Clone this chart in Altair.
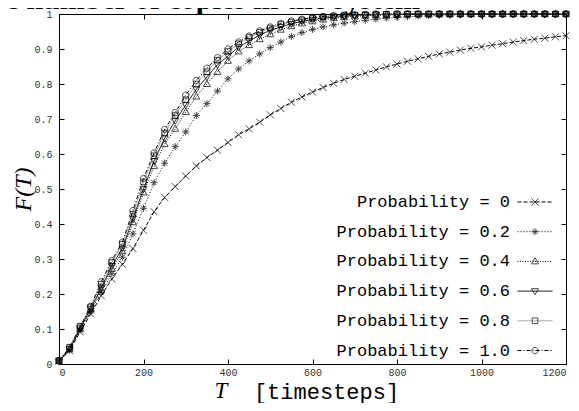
import altair as alt
import pandas as pd

T = list(range(0, 1201, 25))
series_labels = ["Probability = 0", "Probability = 0.2", "Probability = 0.4",
                 "Probability = 0.6", "Probability = 0.8", "Probability = 1.0"]

p00 = [0.008, 0.038, 0.092, 0.143, 0.195, 0.243, 0.285, 0.330, 0.382, 0.435,
       0.476, 0.507, 0.537, 0.566, 0.590, 0.611, 0.633, 0.655, 0.672, 0.691,
       0.712, 0.730, 0.748, 0.763, 0.777, 0.790, 0.802, 0.813, 0.822, 0.831,
       0.840, 0.849, 0.857, 0.865, 0.872, 0.879, 0.886, 0.891, 0.897, 0.902,
       0.906, 0.911, 0.915, 0.920, 0.924, 0.928, 0.931, 0.935, 0.938]
p02 = [0.008, 0.040, 0.097, 0.150, 0.205, 0.258, 0.305, 0.372, 0.445, 0.518,
       0.574, 0.621, 0.663, 0.710, 0.744, 0.780, 0.815, 0.843, 0.866, 0.886,
       0.904, 0.920, 0.936, 0.947, 0.956, 0.963, 0.969, 0.974, 0.978, 0.982,
       0.985, 0.988, 0.990, 0.992, 0.994, 0.995, 0.996, 0.997, 0.998, 0.998,
       0.999, 0.999, 0.999, 1.0, 1.0, 1.0, 1.0, 1.0, 1.0]
p04 = [0.008, 0.042, 0.100, 0.155, 0.212, 0.272, 0.322, 0.405, 0.490, 0.565,
       0.628, 0.672, 0.720, 0.764, 0.800, 0.834, 0.866, 0.893, 0.911, 0.928,
       0.942, 0.955, 0.965, 0.973, 0.979, 0.984, 0.988, 0.991, 0.993, 0.995,
       0.996, 0.997, 0.998, 0.999, 0.999, 0.999, 1.0, 1.0, 1.0, 1.0,
       1.0, 1.0, 1.0, 1.0, 1.0, 1.0, 1.0, 1.0, 1.0]
p06 = [0.008, 0.043, 0.102, 0.158, 0.218, 0.280, 0.330, 0.415, 0.500, 0.580,
       0.645, 0.695, 0.740, 0.785, 0.820, 0.855, 0.880, 0.905, 0.923, 0.940,
       0.953, 0.963, 0.972, 0.979, 0.984, 0.988, 0.991, 0.994, 0.996, 0.997,
       0.998, 0.999, 0.999, 1.0, 1.0, 1.0, 1.0, 1.0, 1.0, 1.0,
       1.0, 1.0, 1.0, 1.0, 1.0, 1.0, 1.0, 1.0, 1.0]
p08 = [0.010, 0.048, 0.108, 0.163, 0.228, 0.290, 0.342, 0.428, 0.520, 0.595,
       0.660, 0.710, 0.755, 0.800, 0.835, 0.868, 0.893, 0.915, 0.933, 0.948,
       0.960, 0.970, 0.977, 0.983, 0.988, 0.992, 0.994, 0.996, 0.997, 0.998,
       0.999, 0.999, 1.0, 1.0, 1.0, 1.0, 1.0, 1.0, 1.0, 1.0,
       1.0, 1.0, 1.0, 1.0, 1.0, 1.0, 1.0, 1.0, 1.0]
p10 = [0.010, 0.046, 0.106, 0.165, 0.235, 0.295, 0.348, 0.438, 0.530, 0.603,
       0.670, 0.718, 0.768, 0.810, 0.845, 0.875, 0.900, 0.920, 0.937, 0.952,
       0.963, 0.973, 0.980, 0.985, 0.990, 0.993, 0.995, 0.997, 0.998, 0.999,
       1.0, 1.0, 1.0, 1.0, 1.0, 1.0, 1.0, 1.0, 1.0, 1.0,
       1.0, 1.0, 1.0, 1.0, 1.0, 1.0, 1.0, 1.0, 1.0]

x_ticks = [0, 200, 400, 600, 800, 1000, 1200]
y_ticks = [0, 0.1, 0.2, 0.3, 0.4, 0.5, 0.6, 0.7, 0.8, 0.9, 1.0]
title_text = "the number of copies in the system"

# ---- build table ----
rows = []
for lab, vals in zip(series_labels, [p00, p02, p04, p06, p08, p10]):
    for t, v in zip(T, vals):
        rows.append({"T": t, "F": v, "series": lab, "series2": lab, "series3": lab})
df = pd.DataFrame(rows)

# ---- styles ----
W, H = 507, 350
line_colors = ["black", "black", "black", "black", "#9a9a9a", "black"]
dashes = [[4, 2], [1, 2], [1, 1.5], [1, 0], [1, 0], [4, 2, 1, 2]]
shapes = [
    "M-0.2,-0.2L0.2,0.2M-0.2,0.2L0.2,-0.2",
    "M-0.2,0L0.2,0M0,-0.2L0,0.2M-0.14,-0.14L0.14,0.14M-0.14,0.14L0.14,-0.14",
    "M0,-0.21L0.2,0.14L-0.2,0.14Z",
    "M0,0.21L0.2,-0.14L-0.2,-0.14Z",
    "M-0.16,-0.16L0.16,-0.16L0.16,0.16L-0.16,0.16Z",
    "M-0.18,0A0.18,0.18,0,1,0,0.18,0A0.18,0.18,0,1,0,-0.18,0Z",
]
SYM = 1225
mono = "Liberation Mono"
serif = "Liberation Serif"

xscale = alt.Scale(domain=[0, 1200], nice=False, zero=False)
yscale = alt.Scale(domain=[0, 1], nice=False)

legend_common = dict(
    orient="none", legendY=170, title=None,
    labelFont=mono, labelFontSize=17, labelAlign="right", labelOffset=0,
    labelLimit=400, symbolSize=SYM, symbolStrokeWidth=1, rowPadding=3.7,
    padding=0, labelBaseline="middle",
)
LEG_SYM_X = 458   # legends that draw the samples (no texts)
LEG_LAB_X = 415   # legend that draws the texts

# main axes (labels only)
x_main = alt.Axis(values=x_ticks, format="d", labelFont=mono, labelFontSize=10,
                  labelColor="#333", labelPadding=3, labelFlush=True,
                  ticks=False, domain=False, grid=False,
                  title="[timesteps]", titleFont=mono, titleFontSize=22,
                  titleFontWeight="normal", titleX=267, titleY=34,
                  titleBaseline="alphabetic", titleAlign="center")
y_main = alt.Axis(values=y_ticks, format=".1~f", labelFont=mono, labelFontSize=10,
                  labelColor="#333", labelPadding=7, ticks=False, domain=False, grid=False,
                  title="F(T)", titleFont=serif, titleFontStyle="italic", titleFontSize=24,
                  titleFontWeight="normal", titleX=-36, titleY=175, titleAngle=270,
                  titleBaseline="middle", titleAlign="center")

line_legend = alt.Legend(labelExpr="''", symbolType="stroke", legendX=LEG_SYM_X,
                         **legend_common)
lines = alt.Chart(df).mark_line(strokeWidth=1).encode(
    x=alt.X("T:Q", scale=xscale, axis=x_main),
    y=alt.Y("F:Q", scale=yscale, axis=y_main),
    color=alt.Color("series:N", scale=alt.Scale(domain=series_labels, range=line_colors),
                    legend=line_legend),
    strokeDash=alt.StrokeDash("series:N", scale=alt.Scale(domain=series_labels, range=dashes),
                              legend=line_legend),
)

def tick_axis(orient, offset, values):
    return alt.Axis(orient=orient, offset=offset, values=values, labels=False, ticks=True,
                    tickSize=5, tickColor="black", tickWidth=1, domain=False, grid=False,
                    title=None)

points = alt.Chart(df).mark_point(filled=False, color="black", size=SYM, strokeWidth=1).encode(
    x=alt.X("T:Q", scale=xscale, axis=tick_axis("top", -H, x_ticks)),
    y=alt.Y("F:Q", scale=yscale, axis=tick_axis("right", -W, y_ticks)),
    shape=alt.Shape("series2:N", scale=alt.Scale(range=shapes),
                    legend=alt.Legend(labelExpr="''", legendX=LEG_SYM_X, **legend_common)),
)

ghost = alt.Chart(df).mark_point(opacity=0, filled=True).encode(
    x=alt.X("T:Q", scale=xscale, axis=tick_axis("bottom", -H, x_ticks)),
    y=alt.Y("F:Q", scale=yscale, axis=tick_axis("left", -W, y_ticks)),
    fill=alt.Fill("series3:N", scale=alt.Scale(range=["white"] * 6),
                  legend=alt.Legend(labelColor="black", symbolOpacity=0, symbolType="stroke",
                                    legendX=LEG_LAB_X, **legend_common)),
)

t_label = alt.Chart(pd.DataFrame({"t": ["T"]})).mark_text(
    font=serif, fontStyle="italic", fontSize=23, align="center", baseline="alphabetic",
    color="black").encode(x=alt.value(162), y=alt.value(384), text="t:N")

top_title = alt.Chart(pd.DataFrame({"t": [title_text]})).mark_text(
    font=serif, fontWeight="bold", fontSize=30, align="right", baseline="alphabetic",
    color="black").encode(x=alt.value(361), y=alt.value(-5), text="t:N")

chart = alt.layer(lines, points, ghost, t_label, top_title).resolve_axis(
    x="independent", y="independent"
).properties(
    width=W, height=H,
    autosize=alt.AutoSizeParams(type="none"),
    padding={"left": 51, "top": 6, "right": 5, "bottom": 39},
).configure_view(stroke="black", strokeWidth=1).configure_point(
    strokeWidth=1
)

chart.save("out.html", embed_options={"renderer": "svg", "actions": False})
